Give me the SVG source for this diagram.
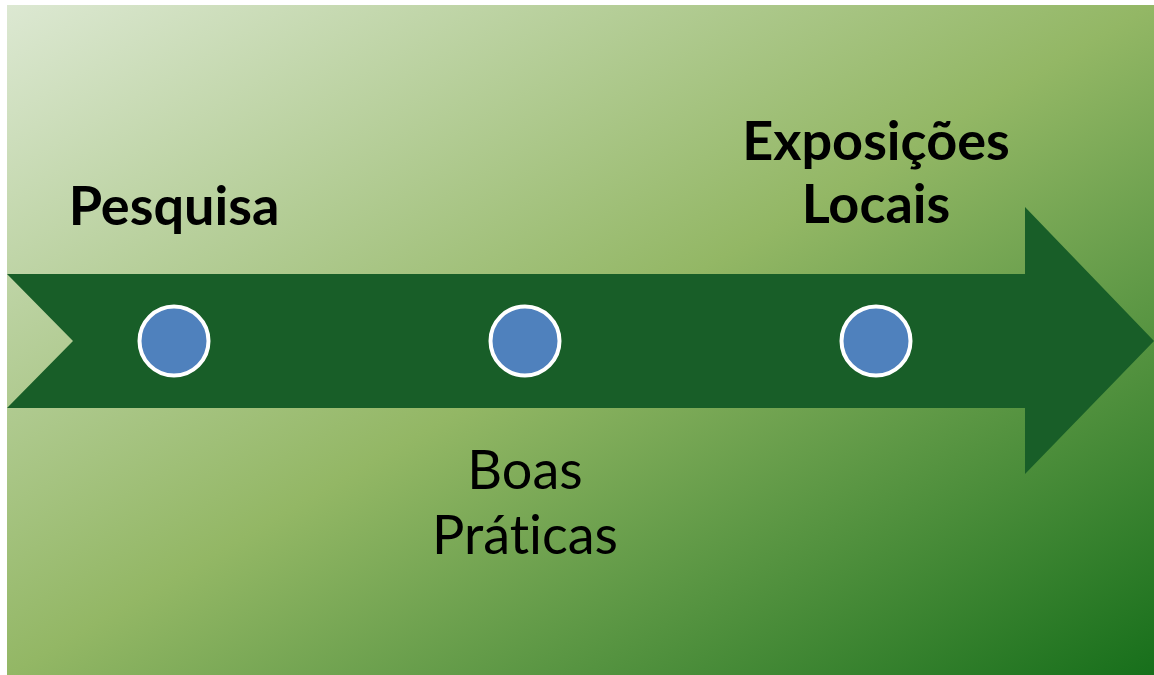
<svg xmlns="http://www.w3.org/2000/svg" width="1154" height="675" viewBox="0 0 1154 675">
<defs>
<linearGradient id="bg" x1="0" y1="0" x2="1" y2="1">
<stop offset="0" stop-color="#dce8d2"/>
<stop offset="0.5" stop-color="#93b765"/>
<stop offset="1" stop-color="#176f1b"/>
</linearGradient>
</defs>
<style>
.lbl{font-family:Lato,"Open Sans",sans-serif;font-size:54px;fill:#000;text-anchor:middle;font-variant-ligatures:none}
.b{font-weight:bold}
.dot{fill:#4f81bd;stroke:#fff;stroke-width:4}
</style>
<rect x="7" y="5" width="1147" height="670" fill="url(#bg)"/>
<g id="arrow">
<polygon points="7,274 1025,274 1025,207 1154,341 1025,474 1025,408 7,408 73,341" fill="#185e28"/>
</g>
<g id="connectors"></g>
<g id="node1"><circle class="dot" cx="174" cy="341" r="34.5"/><text class="lbl b" x="174" y="225">Pesquisa</text></g>
<g id="node2"><circle class="dot" cx="525" cy="341" r="34.5"/><text class="lbl" x="525" y="489">Boas</text><text class="lbl" x="525" y="554">Práticas</text></g>
<g id="node3"><circle class="dot" cx="876" cy="341" r="34.5"/><text class="lbl b" x="876" y="160">Exposições</text><text class="lbl b" x="876" y="223">Locais</text></g>
</svg>
